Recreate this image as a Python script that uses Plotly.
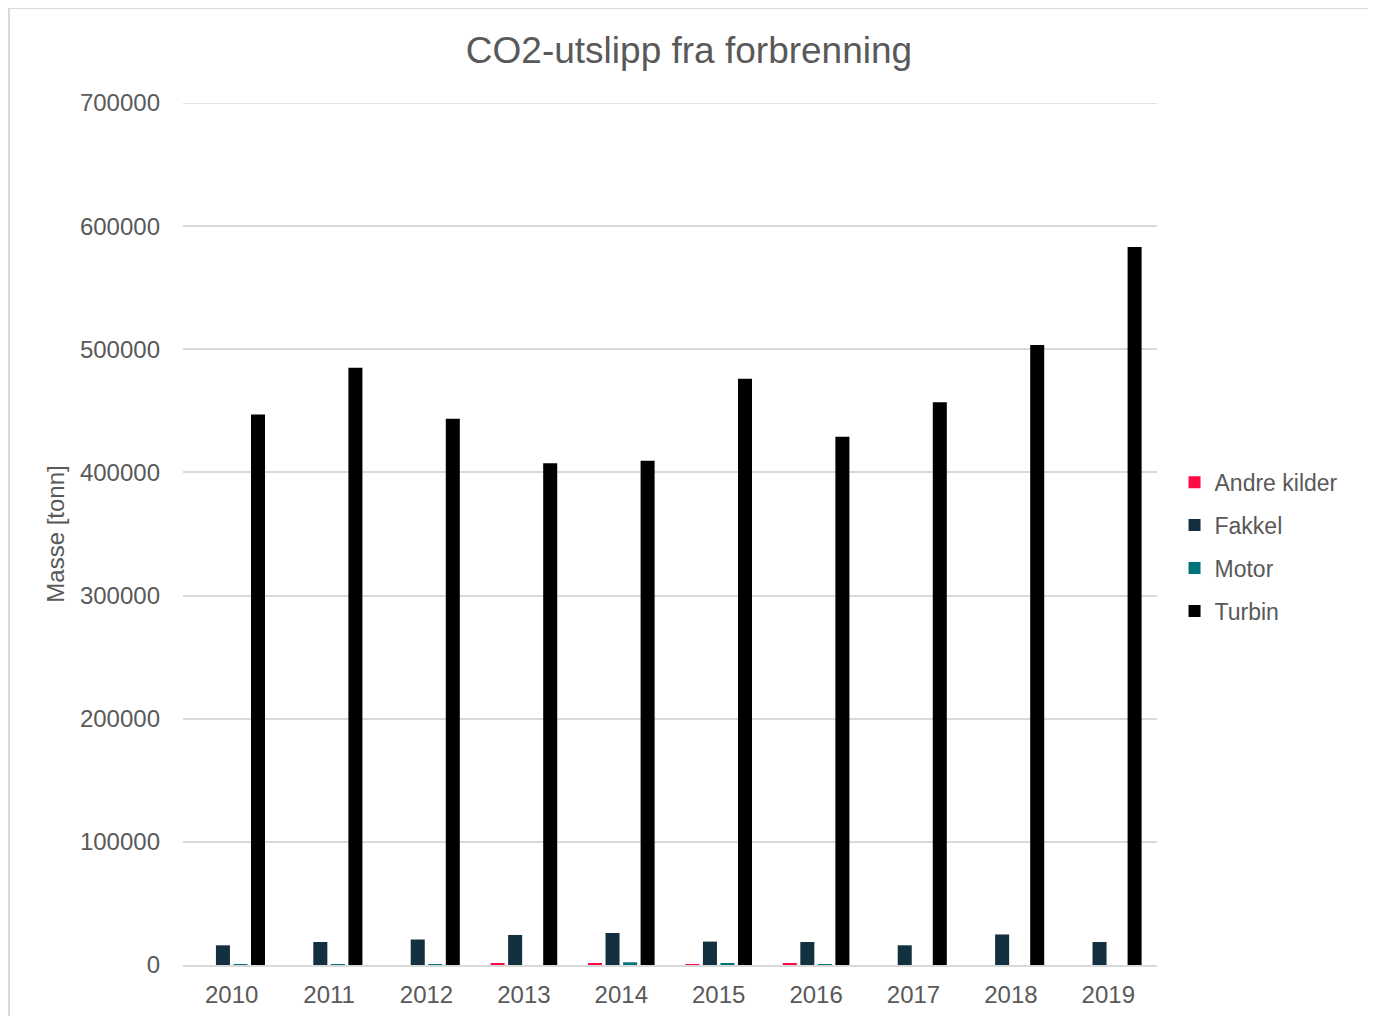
import plotly.graph_objects as go

years = ["2010", "2011", "2012", "2013", "2014", "2015", "2016", "2017", "2018", "2019"]
andre_kilder = [0, 0, 0, 1600, 1600, 800, 1600, 0, 0, 0]
fakkel = [16000, 18700, 20700, 24400, 26000, 19000, 18700, 16000, 24800, 18700]
motor = [600, 300, 800, 0, 2200, 1600, 500, 0, 0, 0]
turbin = [447000, 485000, 443500, 407500, 409500, 476000, 429000, 457000, 503500, 583000]
y_ticks = [0, 100000, 200000, 300000, 400000, 500000, 600000, 700000]

series = [
    ("Andre kilder", andre_kilder, "#FF0A46"),
    ("Fakkel", fakkel, "#12303F"),
    ("Motor", motor, "#00737A"),
    ("Turbin", turbin, "#000000"),
]

font_family = "Arial, Liberation Sans, sans-serif"
grey = "#595959"
gridc = "#d9d9d9"

W, H = 1368, 1008
L, T = 175, 95
PW, PH = 974, 862

fig = go.Figure()
for name, vals, col in series:
    fig.add_trace(go.Bar(name=name, x=years, y=vals, marker=dict(color=col, line=dict(width=0)),
                         legendgroup=name))

fig.update_layout(
    width=W, height=H,
    paper_bgcolor="white", plot_bgcolor="white",
    margin=dict(l=L, r=W - L - PW, t=T, b=H - T - PH, autoexpand=False),
    barmode="group", bargap=0.28, bargroupgap=0.2,
    title=dict(text="CO2-utslipp fra forbrenning", x=681 / W, xanchor="center",
               y=1 - 42 / H, yanchor="middle",
               font=dict(family=font_family, size=37, color=grey)),
    font=dict(family=font_family, size=24, color=grey),
    legend=dict(x=1.018, y=0.585, xanchor="left", yanchor="top", tracegroupgap=10,
                font=dict(size=23, color=grey), bgcolor="rgba(0,0,0,0)",
                itemwidth=30),
    showlegend=True,
)
fig.update_xaxes(showgrid=False, showline=True, linecolor=gridc, linewidth=2,
                 ticks="", ticklabelstandoff=7, tickfont=dict(size=24, color=grey))
fig.update_yaxes(range=[0, y_ticks[-1]], tickvals=y_ticks,
                 showgrid=True, gridcolor=gridc,
                 gridwidth=1.5, zeroline=False, showline=False, ticks="",
                 tickformat="d", ticklabelstandoff=22, tickfont=dict(size=24, color=grey),
                 title=dict(text="Masse [tonn]", standoff=8, font=dict(size=24, color=grey)))

# top gridline (plotly drops gridlines at the range edge)
fig.add_shape(type="line", xref="paper", yref="y", x0=0, x1=1, y0=y_ticks[-1], y1=y_ticks[-1],
              line=dict(color=gridc, width=1.5), layer="below")

# chart border (screen coords relative to plot area)
fig.add_shape(type="rect", xref="paper", yref="paper",
              x0=(9 - 183) / PW, x1=(1370 - 183) / PW,
              y0=(965 - 1030) / PH, y1=(965 - 8) / PH,
              line=dict(color=gridc, width=2), fillcolor="rgba(0,0,0,0)", layer="below")

fig.write_html("out.html")
